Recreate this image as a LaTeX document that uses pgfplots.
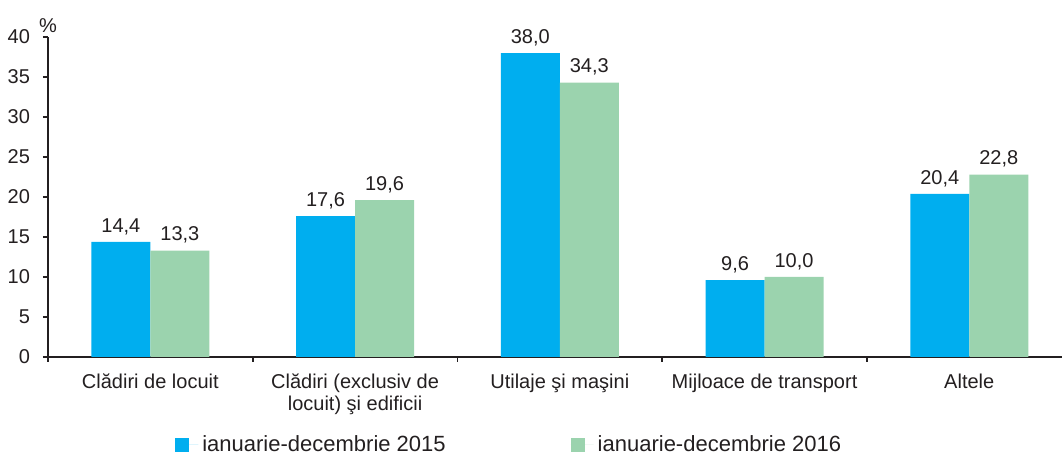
\documentclass[border=0pt]{standalone}
\usepackage{fontspec}
\setmainfont{Liberation Sans}
\usepackage{pgfplots}
\pgfplotsset{compat=1.18}
\definecolor{blu}{HTML}{00AEEF}
\definecolor{grn}{HTML}{9BD3AE}
\definecolor{txt}{HTML}{231F20}

\begin{document}
\begin{tikzpicture}[font=\fontsize{10}{11}\selectfont, text=txt]
\useasboundingbox (-24pt,-49pt) rectangle (507pt,178.5pt);
\begin{axis}[
  at={(0,0)}, anchor=south west,
  scale only axis, width=507pt, height=160pt,
  xmin=-0.5, xmax=4.453, ymin=0, ymax=40,
  clip=false,
  axis x line*=bottom, axis y line*=left,
  axis line style={txt, line width=0.8pt, -},
  tick align=outside,
  tick style={txt, line width=0.8pt},
  major tick length=2.5pt, minor tick length=2.5pt,
  ybar=0pt, bar width=29.5pt,
  ytick={0,5,...,40},
  yticklabel style={xshift=-3pt},
  xtick={0,1,2,3,4},
  major x tick style={draw=none},
  minor xtick={-0.5,0.5,1.5,2.5,3.5},
  xticklabels={Clădiri de locuit, {Clădiri (exclusiv de\\locuit) şi edificii}, Utilaje şi maşini, Mijloace de transport, Altele},
  xticklabel style={align=center, yshift=-2.5pt},
  /pgf/number format/assume math mode=true,
  nodes near coords,
  nodes near coords style={/pgf/number format/.cd, fixed, fixed zerofill, precision=1, use comma},
  legend columns=2,
  legend style={at={(0.1193,-0.275)}, anchor=west, draw=none, fill=none,
    font=\fontsize{11}{13}\selectfont,
    /tikz/every even column/.append style={column sep=60.5pt}},
  legend image code/.code={\fill[#1] (0pt,-3.5pt) rectangle (7pt,3.5pt); \path (0pt,0pt) -- (11.5pt,0pt);},
]
\addplot[fill=blu, draw=none] coordinates {(0,14.4) (1,17.6) (2,38.0) (3,9.6) (4,20.4)};
\addplot[fill=grn, draw=none] coordinates {(0,13.3) (1,19.6) (2,34.3) (3,10.0) (4,22.8)};
\legend{ianuarie-decembrie 2015, ianuarie-decembrie 2016}
\node[anchor=south, inner sep=2pt] at (rel axis cs:0,1) {\%};
\end{axis}
\end{tikzpicture}
\end{document}
